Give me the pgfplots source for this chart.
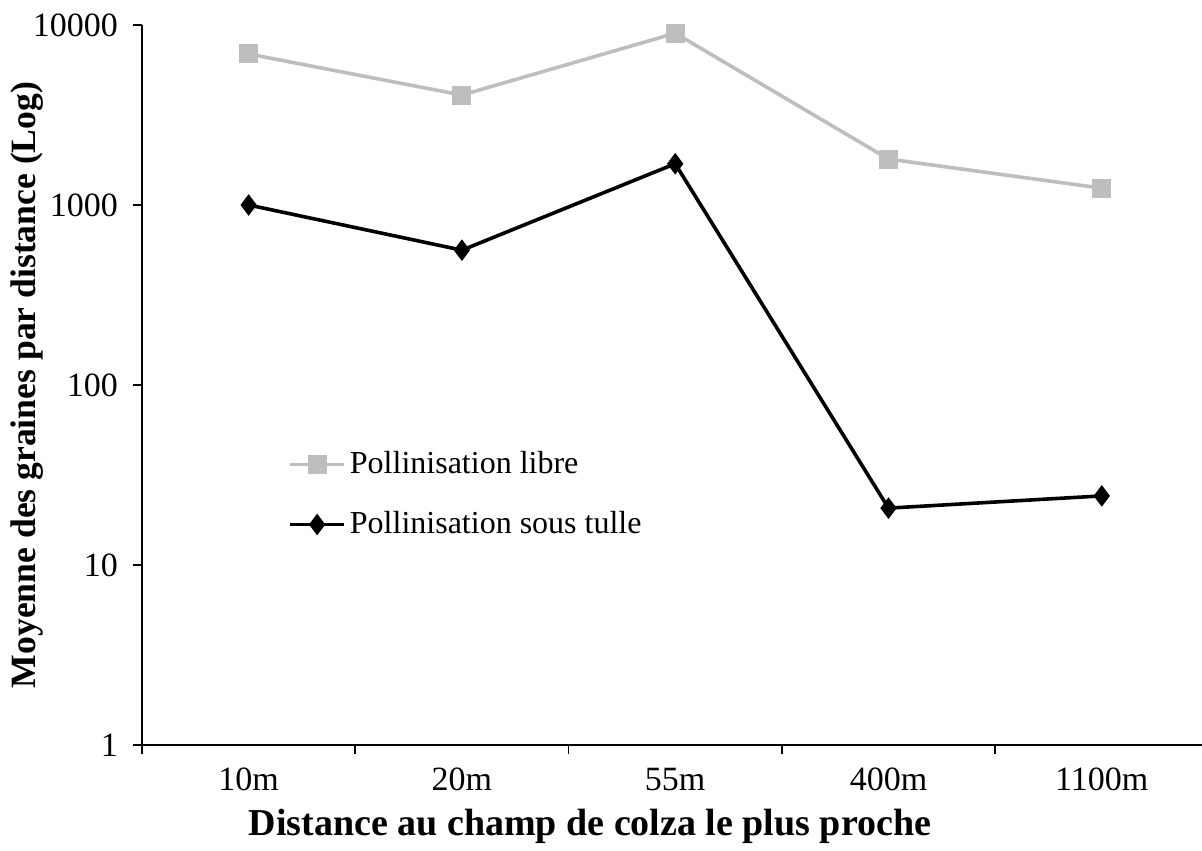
\documentclass[border=0pt]{standalone}
\usepackage{fontspec}
\setmainfont{Liberation Serif}
\usepackage{pgfplots}
\pgfplotsset{compat=1.18}
\definecolor{lgray}{RGB}{190,190,190}
\begin{document}
\fontsize{16}{19}\selectfont
\begin{tikzpicture}
\begin{axis}[
  name=ax,
  scale only axis, width=530pt, height=360pt,
  ymode=log, ymin=1, ymax=10000,
  xmin=-0.5, xmax=4.47,
  axis lines*=left,
  axis line style={line width=0.9pt},
  every tick/.style={black, line width=0.9pt},
  tick align=outside,
  xtick={0,1,2,3,4},
  xticklabels={10m,20m,55m,400m,1100m},
  major x tick style={draw=none},
  minor xtick={-0.5,0.5,1.5,2.5,3.5},
  minor tick length=4.5pt,
  major tick length=4.5pt,
  ytick={1,10,100,1000,10000},
  yticklabels={1,10,100,1000,10000},
  yminorticks=false,
  tick label style={font=\fontsize{17}{20}\selectfont},
  xticklabel style={yshift=-1.5pt},
  yticklabel style={xshift=-2pt},
  xlabel={\textbf{Distance au champ de colza le plus proche}},
  ylabel={\textbf{Moyenne des graines par distance (Log)}},
  every axis x label/.style={at={(axis description cs:0.4226,-0.1135)}, anchor=center, font=\fontsize{19}{22}\selectfont},
  every axis y label/.style={at={(axis description cs:-0.1085,0.5)}, rotate=90, anchor=center, font=\fontsize{17.8}{21}\selectfont},
  legend style={draw=none, fill=none, at={(axis description cs:0.132,0.42)}, anchor=north west, row sep=12.5pt, font=\fontsize{16}{19}\selectfont},
  legend cell align=left,
  legend image code/.code={\draw[mark repeat=2,mark phase=2] plot coordinates {(0pt,0pt)(13.5pt,0pt)(27pt,0pt)};},
  clip=false,
]
\addplot[color=lgray, line width=1.8pt, mark=square*, mark size=4.5pt, mark options={fill=lgray, draw=lgray, line width=0.5pt, rounded corners=1pt}]
  coordinates {(0,6900)(1,4080)(2,9000)(3,1800)(4,1240)};
\addlegendentry{Pollinisation libre}
\addplot[color=black, line width=1.8pt, mark=diamond*, mark size=5pt, mark options={fill=black, line width=0.5pt}]
  coordinates {(0,1000)(1,561)(2,1695)(3,20.7)(4,24.2)};
\addlegendentry{Pollinisation sous tulle}
\end{axis}
\pgfresetboundingbox
\path (ax.south west) ++(-71pt,-52.5pt) rectangle ++(601pt,425pt);
\end{tikzpicture}
\end{document}
